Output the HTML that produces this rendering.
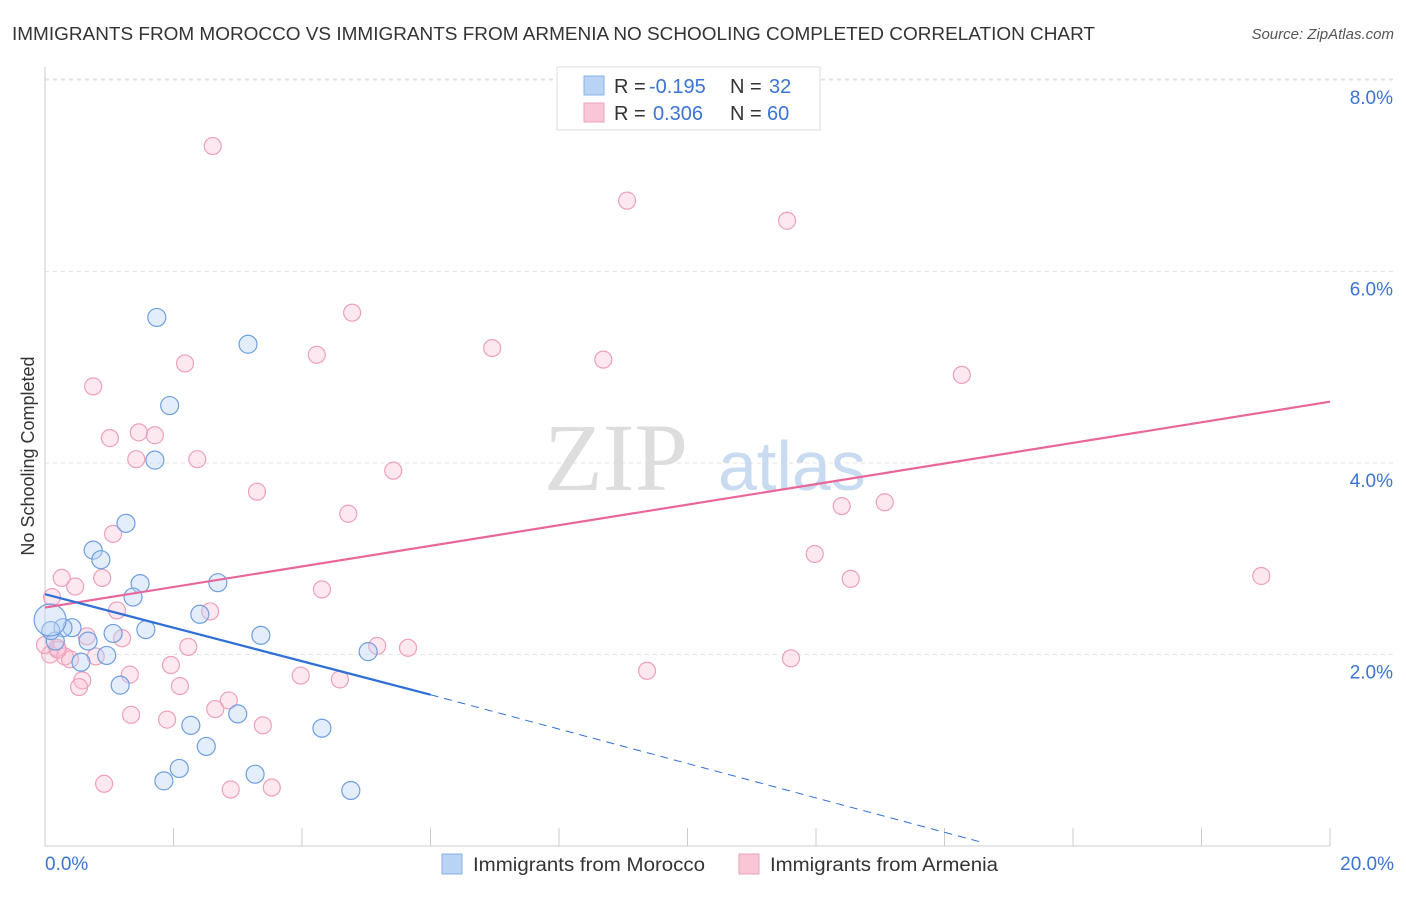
<!DOCTYPE html>
<html><head><meta charset="utf-8"><style>
body{margin:0;background:#fff;font-family:"Liberation Sans",sans-serif}
svg text{font-family:"Liberation Sans",sans-serif}
</style></head><body>
<svg id="chart" width="1406" height="892" xmlns="http://www.w3.org/2000/svg">
<text x="12" y="40" font-size="18" fill="#333" textLength="1083" lengthAdjust="spacingAndGlyphs">IMMIGRANTS FROM MOROCCO VS IMMIGRANTS FROM ARMENIA NO SCHOOLING COMPLETED CORRELATION CHART</text>
<text x="1394" y="39" font-size="15" fill="#555" font-style="italic" text-anchor="end">Source: ZipAtlas.com</text>
<g id="grid"></g>
<text x="688" y="490" font-size="96" fill="#ddd" text-anchor="end" style="font-family:'Liberation Serif',serif">ZIP</text>
<text x="718" y="490" font-size="70" fill="#c9dbf0">atlas</text>
<g id="marks"></g>
<text transform="translate(34,456) rotate(-90)" font-size="18" fill="#333" text-anchor="middle">No Schooling Completed</text>
<g>
<rect x="557" y="67" width="263" height="63" fill="#fff" stroke="#ddd"/>
<rect x="584" y="76" width="20" height="19" fill="#b9d3f5" stroke="#8ab0e8"/>
<rect x="584" y="103" width="20" height="19" fill="#f9c6d5" stroke="#eea0b8"/>
<text x="614" y="93" font-size="20" fill="#333">R =</text><text x="649" y="93" font-size="20" fill="#3b74d4">-0.195</text>
<text x="730" y="93" font-size="20" fill="#333">N =</text><text x="769" y="93" font-size="20" fill="#3b74d4">32</text>
<text x="614" y="120" font-size="20" fill="#333">R =</text><text x="653" y="120" font-size="20" fill="#3b74d4">0.306</text>
<text x="730" y="120" font-size="20" fill="#333">N =</text><text x="767" y="120" font-size="20" fill="#3b74d4">60</text>
</g>
<g>
<rect x="442" y="854" width="20" height="20" fill="#b9d3f5" stroke="#8ab0e8"/>
<text x="473" y="871" font-size="19" fill="#333" textLength="232" lengthAdjust="spacingAndGlyphs">Immigrants from Morocco</text>
<rect x="739" y="854" width="20" height="20" fill="#f9c6d5" stroke="#eea0b8"/>
<text x="770" y="871" font-size="19" fill="#333" textLength="228" lengthAdjust="spacingAndGlyphs">Immigrants from Armenia</text>
</g>
</svg>
<script>
const xTicks=[0,2,4,6,8,10,12,14,16,18,20];
const yTicks=[2,4,6,8];
const yTickLabels=["2.0%","4.0%","6.0%","8.0%"];
const moroccoX=[1.74,3.16,1.94,1.71,1.26,0.75,0.87,1.48,2.69,1.37,2.41,1.57,1.06,3.36,0.42,0.28,0.67,0.96,0.56,5.03,0.16,0.09,1.17,3.0,2.27,4.31,2.51,2.09,1.85,3.27,4.76,0.08];
const moroccoY=[5.52,5.24,4.6,4.03,3.37,3.09,2.99,2.74,2.75,2.6,2.42,2.26,2.22,2.2,2.28,2.28,2.14,1.99,1.92,2.03,2.14,2.25,1.68,1.38,1.26,1.23,1.04,0.81,0.68,0.75,0.58,2.36];
const moroccoR=[9,9,9,9,9,9,9,9,9,9,9,9,9,9,9,9,9,9,9,9,9,9,9,9,9,9,9,9,9,9,9,16];
const armeniaX=[2.61,9.06,11.55,4.78,4.23,6.96,8.69,2.18,14.27,0.75,1.01,1.46,1.71,1.42,2.37,5.42,3.3,4.72,13.07,12.4,1.06,11.98,0.26,0.89,0.47,4.31,12.54,18.93,0.11,1.12,2.57,0.65,1.2,0.19,5.17,5.65,2.23,0.08,0.31,0.79,0.39,1.96,3.98,4.59,0.58,0.53,2.1,1.32,2.86,2.65,1.34,1.9,3.39,0.92,2.89,3.53,9.37,11.61,0.2,0.0];
const armeniaY=[7.31,6.74,6.53,5.57,5.13,5.2,5.08,5.04,4.92,4.8,4.26,4.32,4.29,4.04,4.04,3.92,3.7,3.47,3.59,3.55,3.26,3.05,2.8,2.8,2.71,2.68,2.79,2.82,2.6,2.46,2.45,2.19,2.17,2.07,2.09,2.07,2.08,2.0,1.98,1.98,1.95,1.89,1.78,1.74,1.73,1.66,1.67,1.79,1.52,1.43,1.37,1.32,1.26,0.65,0.59,0.61,1.83,1.96,2.05,2.1];
const moroccoTrend=[[0,2.63],[6.0,1.58]];
const moroccoDash=[[6.0,1.58],[14.63,0.03]];
const armeniaTrend=[[0,2.49],[20,4.64]];
const X=v=>45+v/20*1285, Y=v=>846-v*95.75;
const ns='http://www.w3.org/2000/svg';
const grid=document.getElementById('grid'),marks=document.getElementById('marks');
function mk(tag,at,parent){const e=document.createElementNS(ns,tag);for(const k in at)e.setAttribute(k,at[k]);parent.appendChild(e);return e;}
yTicks.forEach((t,i)=>{
 const l=mk('line',{x1:45,x2:1394,y1:Y(t),y2:Y(t),stroke:'#e3e3e3','stroke-dasharray':'4,4'},grid);
 
 
 const tx=mk('text',{x:1393,y:Y(t)+24,'font-size':19,fill:'#3b74d4','text-anchor':'end'},grid);tx.textContent=yTickLabels[i];
 
 
});
const topGrid=mk('line',{x1:45,x2:1394,y1:79,y2:79,stroke:'#e3e3e3','stroke-dasharray':'4,4'},grid);


const ya=mk('line',{x1:45,x2:45,y1:67,y2:846,stroke:'#ccc'},grid);


const xa=mk('line',{x1:45,x2:1330,y1:846,y2:846,stroke:'#ccc'},grid);


xTicks.forEach(t=>{const l=mk('line',{x1:X(t),x2:X(t),y1:828,y2:846,stroke:'#ccc'},grid);
 
 });
const xl0=mk('text',{x:45,y:870,'font-size':19,fill:'#3b74d4'},grid);xl0.textContent='0.0%';


const xl1=mk('text',{x:1394,y:870,'font-size':19,fill:'#3b74d4','text-anchor':'end'},grid);xl1.textContent='20.0%';


armeniaX.forEach((v,i)=>{const c=mk('circle',{cx:X(v),cy:Y(armeniaY[i]),r:8.5,fill:'rgba(249,190,208,0.35)',stroke:'#eea0b8','stroke-width':1.2},marks);
 
 });
moroccoX.forEach((v,i)=>{const c=mk('circle',{cx:X(v),cy:Y(moroccoY[i]),r:moroccoR[i],fill:'rgba(185,211,245,0.4)',stroke:'#6e9fe0','stroke-width':1.2},marks);
 
 });
const ln=(p,st,extra)=>mk('line',Object.assign({x1:X(p[0][0]),y1:Y(p[0][1]),x2:X(p[1][0]),y2:Y(p[1][1]),stroke:st},extra),marks);
const trA=ln(armeniaTrend,'#e8679a',{'stroke-width':2.2});


const trM=ln(moroccoTrend,'#2f6fd6',{'stroke-width':2.2});


const trD=ln(moroccoDash,'#2f6fd6',{'stroke-width':1,'stroke-dasharray':'8,6'});


</script>
</body></html>
